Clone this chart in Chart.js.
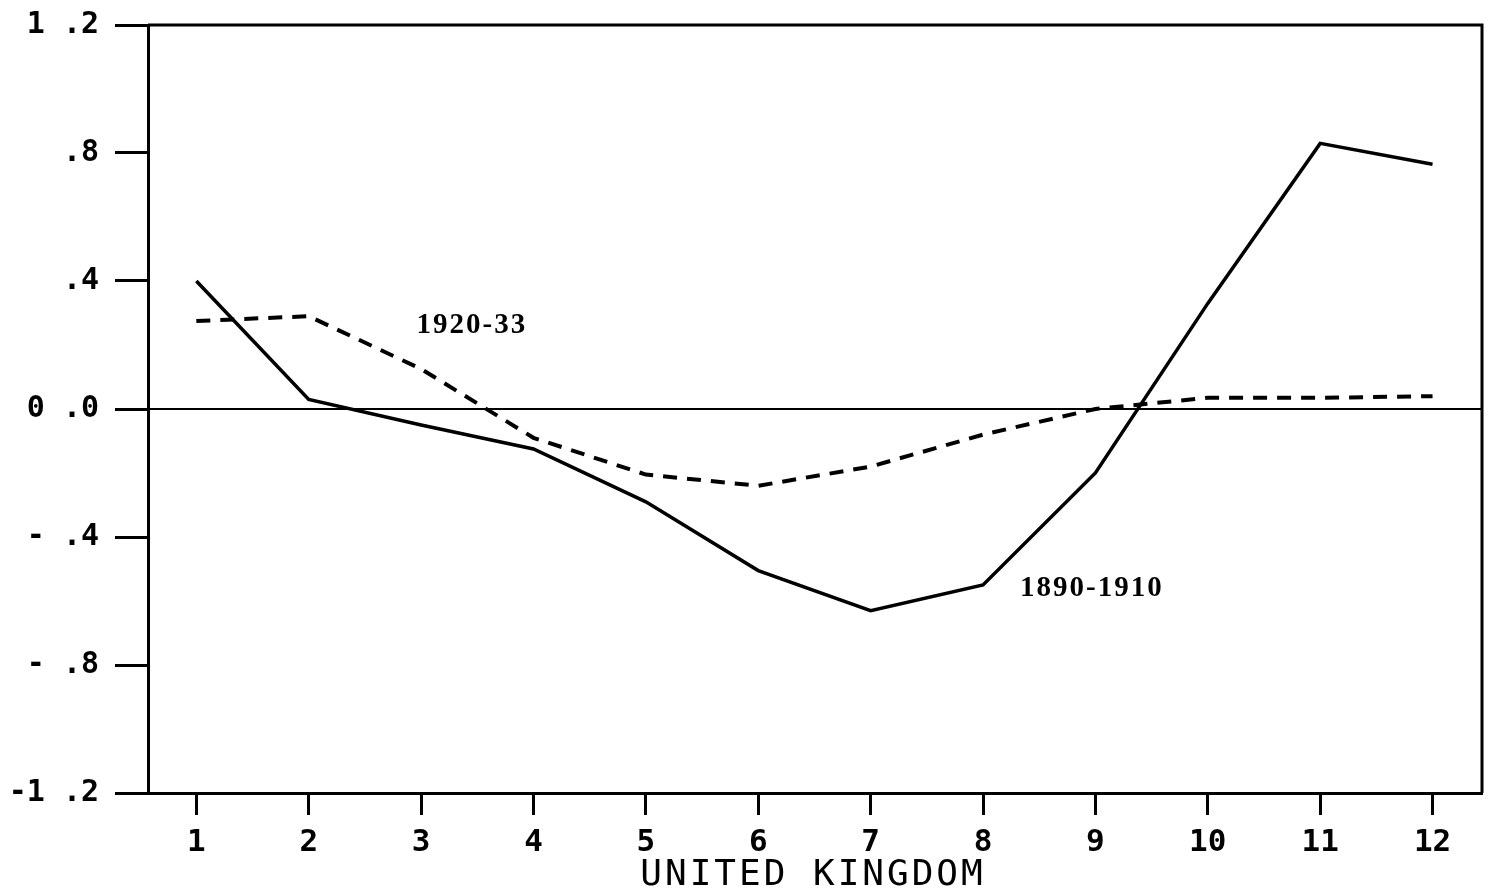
<!DOCTYPE html>
<html lang="en">
<head>
    <meta charset="UTF-8">
    <title>United Kingdom</title>
    <style>
        * { margin: 0; padding: 0; box-sizing: border-box; }
        body { background: #ffffff; width: 1493px; height: 894px; overflow: hidden; }
        .chart-container { position: relative; width: 1493px; height: 894px; }
    </style>
</head>
<body>
    <div class="chart-container">
        <canvas id="ukChart"></canvas>
    </div>
    <script src="https://cdn.jsdelivr.net/npm/chart.js"></script>
    <script>
        // Data
        const periods = [1, 2, 3, 4, 5, 6, 7, 8, 9, 10, 11, 12];
        const series1890 = [0.40, 0.03, -0.05, -0.125, -0.29, -0.505, -0.63, -0.55, -0.20, 0.33, 0.83, 0.765];
        const series1920 = [0.275, 0.29, 0.125, -0.09, -0.205, -0.24, -0.18, -0.08, 0.0, 0.035, 0.035, 0.04];
        const yTicks = [-1.2, -0.8, -0.4, 0, 0.4, 0.8, 1.2];
        const yTickLabels = ['-1 .2', '- .8', '- .4', '0 .0', ' .4', ' .8', '1 .2'];
        const xTicks = periods;
        const xTitle = 'UNITED KINGDOM';
        const notes = [
            { text: '1920-33', x: 2.96, y: 0.26 },
            { text: '1890-1910', x: 8.33, y: -0.56 }
        ];

        const monoFont = "'DejaVu Sans Mono', monospace";

        const toPoints = vals => periods.map((p, i) => ({ x: p, y: vals[i] }));

        // Box, zero line, curve labels and axis title
        const decor = {
            id: 'decor',
            beforeDatasetsDraw(chart) {
                const { ctx, chartArea: a, scales } = chart;
                const y0 = scales.y.getPixelForValue(0);
                ctx.save();
                ctx.strokeStyle = '#000';
                ctx.lineWidth = 2;
                ctx.beginPath();
                ctx.moveTo(a.left, y0);
                ctx.lineTo(a.right, y0);
                ctx.stroke();
                ctx.restore();
            },
            afterDraw(chart) {
                const { ctx, chartArea: a, scales } = chart;
                ctx.save();
                ctx.strokeStyle = '#000';
                ctx.lineWidth = 3;
                ctx.beginPath();
                ctx.moveTo(a.left, a.top);
                ctx.lineTo(a.right, a.top);
                ctx.lineTo(a.right, a.bottom);
                ctx.stroke();

                ctx.fillStyle = '#000';
                ctx.font = "bold 29px 'Liberation Serif', serif";
                ctx.letterSpacing = '2px';
                ctx.textAlign = 'left';
                ctx.textBaseline = 'middle';
                notes.forEach(n => {
                    ctx.fillText(n.text, scales.x.getPixelForValue(n.x), scales.y.getPixelForValue(n.y));
                });

                ctx.font = '36px ' + monoFont;
                ctx.letterSpacing = '3px';
                ctx.textAlign = 'center';
                ctx.textBaseline = 'alphabetic';
                ctx.fillText(xTitle, 813, 885);
                ctx.restore();
            }
        };

        new Chart(document.getElementById('ukChart'), {
            type: 'line',
            data: {
                datasets: [
                    {
                        label: '1890-1910',
                        data: toPoints(series1890),
                        borderColor: '#000',
                        borderWidth: 3.5,
                        pointRadius: 0,
                        tension: 0,
                        fill: false
                    },
                    {
                        label: '1920-33',
                        data: toPoints(series1920),
                        borderColor: '#000',
                        borderWidth: 4,
                        borderDash: [14, 10],
                        pointRadius: 0,
                        tension: 0,
                        fill: false
                    }
                ]
            },
            options: {
                responsive: true,
                maintainAspectRatio: false,
                animation: false,
                devicePixelRatio: 1,
                layout: { padding: { top: 25, right: 11, left: 0, bottom: 0 } },
                scales: {
                    x: {
                        type: 'linear',
                        min: 0.57,
                        max: 12.44,
                        afterBuildTicks: s => { s.ticks = xTicks.map(v => ({ value: v })); },
                        afterFit: s => { s.height = 101; s.paddingLeft = 0; s.paddingRight = 0; },
                        grid: { color: 'transparent', tickColor: '#000', tickLength: 22, tickWidth: 3 },
                        border: { display: true, color: '#000', width: 3 },
                        ticks: {
                            color: '#000',
                            font: { family: monoFont, size: 31, weight: 'bold' },
                            padding: 9,
                            maxRotation: 0,
                            callback: v => String(v)
                        }
                    },
                    y: {
                        min: -1.2,
                        max: 1.2,
                        afterBuildTicks: s => { s.ticks = yTicks.map(v => ({ value: v })); },
                        afterFit: s => { s.width = 148; s.paddingTop = 0; s.paddingBottom = 0; },
                        grid: { color: 'transparent', tickColor: '#000', tickLength: 33, tickWidth: 3 },
                        border: { display: true, color: '#000', width: 3 },
                        ticks: {
                            color: '#000',
                            font: { family: monoFont, size: 30, weight: 'bold' },
                            padding: 16,
                            callback: v => yTickLabels[yTicks.findIndex(t => Math.abs(t - v) < 1e-6)]
                        }
                    }
                },
                plugins: {
                    legend: { display: false },
                    tooltip: { enabled: false },
                    title: { display: false }
                }
            },
            plugins: [decor]
        });
    </script>
</body>
</html>
